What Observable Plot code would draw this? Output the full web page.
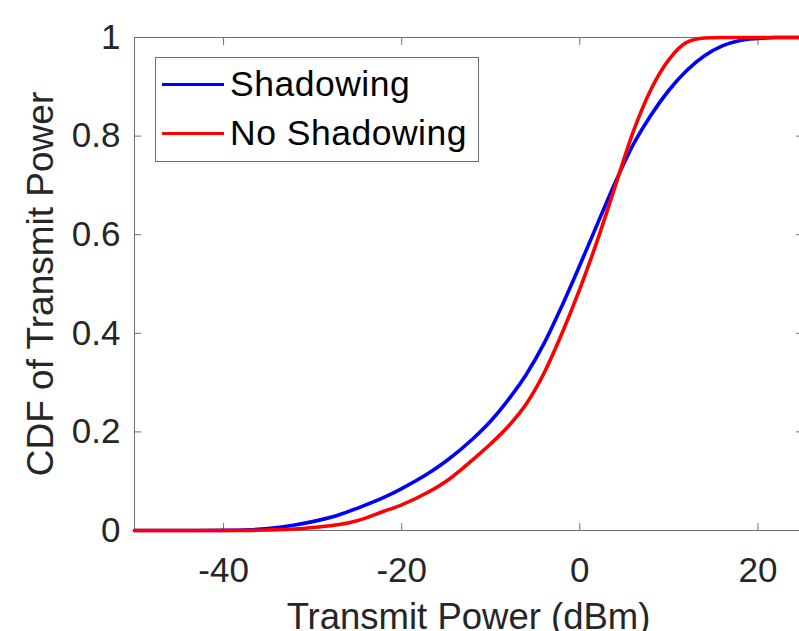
<!DOCTYPE html>
<html><head><meta charset="utf-8">
<script src="https://cdn.jsdelivr.net/npm/d3@7"></script>
<script src="https://cdn.jsdelivr.net/npm/@observablehq/plot@0.6"></script>
<style>
html,body{margin:0;padding:0;background:#fff;overflow:hidden}
#wrap{position:relative;width:799px;height:631px;overflow:hidden}
.legend{position:absolute;left:155px;top:57px;width:322px;height:103px;border:1px solid #6e6e6e;background:#fff;font-family:"Liberation Sans",Arial,sans-serif;font-size:35.5px;letter-spacing:0.5px;color:#000}
.row{position:absolute;left:6px;height:40px;display:flex;align-items:center;white-space:nowrap}
.sw{width:62px;height:0;border-top:3.5px solid;margin-right:6px}
</style></head>
<body><div id="wrap"></div>
<script>
const xValues     = [-50, -45, -40, -37, -35, -32, -30, -27, -25, -22, -20, -17, -15, -12, -10, -8, -6, -4, -2, 0, 2, 4, 6, 8, 10, 12, 14, 16, 18, 20, 22, 25];
const shadowing   = [0, 0, 0.0003, 0.0015, 0.004, 0.011, 0.018, 0.032, 0.045, 0.067, 0.085, 0.116, 0.141, 0.186, 0.222, 0.266, 0.317, 0.38, 0.456, 0.538, 0.623, 0.707, 0.783, 0.843, 0.893, 0.933, 0.963, 0.983, 0.994, 0.998, 1, 1];
const noShadowing = [0, 0, 0, 0.0003, 0.001, 0.003, 0.006, 0.012, 0.02, 0.039, 0.052, 0.078, 0.1, 0.144, 0.176, 0.212, 0.257, 0.32, 0.40, 0.49, 0.59, 0.70, 0.809, 0.895, 0.955, 0.99, 0.999, 1, 1, 1, 1, 1];
const seriesNames  = ["Shadowing", "No Shadowing"];
const seriesColors = ["#0000ff", "#ff0000"];
const xTicks = [-40, -20, 0, 20];
const yTicks = [0, 0.2, 0.4, 0.6, 0.8, 1];
const xLabel = "Transmit Power (dBm)";
const yLabel = "CDF of Transmit Power";

const seriesValues = [shadowing, noShadowing];
const rows = [];
seriesNames.forEach((name, i) => {
  xValues.forEach((x, j) => rows.push({series: name, x, y: seriesValues[i][j]}));
});

const axisColor = "#6e6e6e";
const textColor = "#262626";
const font = '"Liberation Sans", Arial, sans-serif';

const chart = Plot.plot({
  width: 799,
  height: 631,
  marginLeft: 134,
  marginRight: -3,
  marginTop: 37,
  marginBottom: 101,
  style: {fontFamily: font, fontSize: "35px", color: textColor, background: "#fff"},
  x: {domain: [-50, 25], label: null},
  y: {domain: [0, 1], label: null},
  color: {domain: seriesNames, range: seriesColors},
  marks: [
    Plot.frame({stroke: axisColor}),
    Plot.axisX(xTicks, {anchor: "bottom", tickSize: -7, stroke: axisColor, tickFormat: () => "", label: null}),
    Plot.axisX(xTicks, {anchor: "top", tickSize: -7, stroke: axisColor, tickFormat: () => "", label: null}),
    Plot.axisY(yTicks, {anchor: "left", tickSize: -7, stroke: axisColor, tickFormat: () => "", label: null}),
    Plot.axisY(yTicks, {anchor: "right", tickSize: -7, stroke: axisColor, tickFormat: () => "", label: null}),
    Plot.axisX(xTicks, {anchor: "bottom", tickSize: 0, tickPadding: 27, fill: textColor, fontSize: 35, tickFormat: d => String(d), label: null}),
    Plot.axisY(yTicks, {anchor: "left", tickSize: 0, tickPadding: 14, fill: textColor, fontSize: 35, tickFormat: d => String(d), label: null}),
    Plot.line(rows, {x: "x", y: "y", z: "series", stroke: "series", strokeWidth: 3.6, curve: "monotone-x"}),
    Plot.text([yLabel], {frameAnchor: "left", rotate: -90, dx: -93, fontSize: 37, fill: textColor, textAnchor: "middle", lineAnchor: "middle"}),
    Plot.text([xLabel], {frameAnchor: "bottom", dy: 87, fontSize: 36.5, fill: textColor, textAnchor: "middle", lineAnchor: "middle"})
  ]
});

const wrap = document.getElementById("wrap");
wrap.appendChild(chart);

const legend = document.createElement("div");
legend.className = "legend";
const rowTops = [6, 55];
seriesNames.forEach((name, i) => {
  const row = document.createElement("div");
  row.className = "row";
  row.style.top = rowTops[i] + "px";
  const sw = document.createElement("span");
  sw.className = "sw";
  sw.style.borderTopColor = seriesColors[i];
  const t = document.createElement("span");
  t.textContent = name;
  row.appendChild(sw);
  row.appendChild(t);
  legend.appendChild(row);
});
wrap.appendChild(legend);
</script>
</body></html>
